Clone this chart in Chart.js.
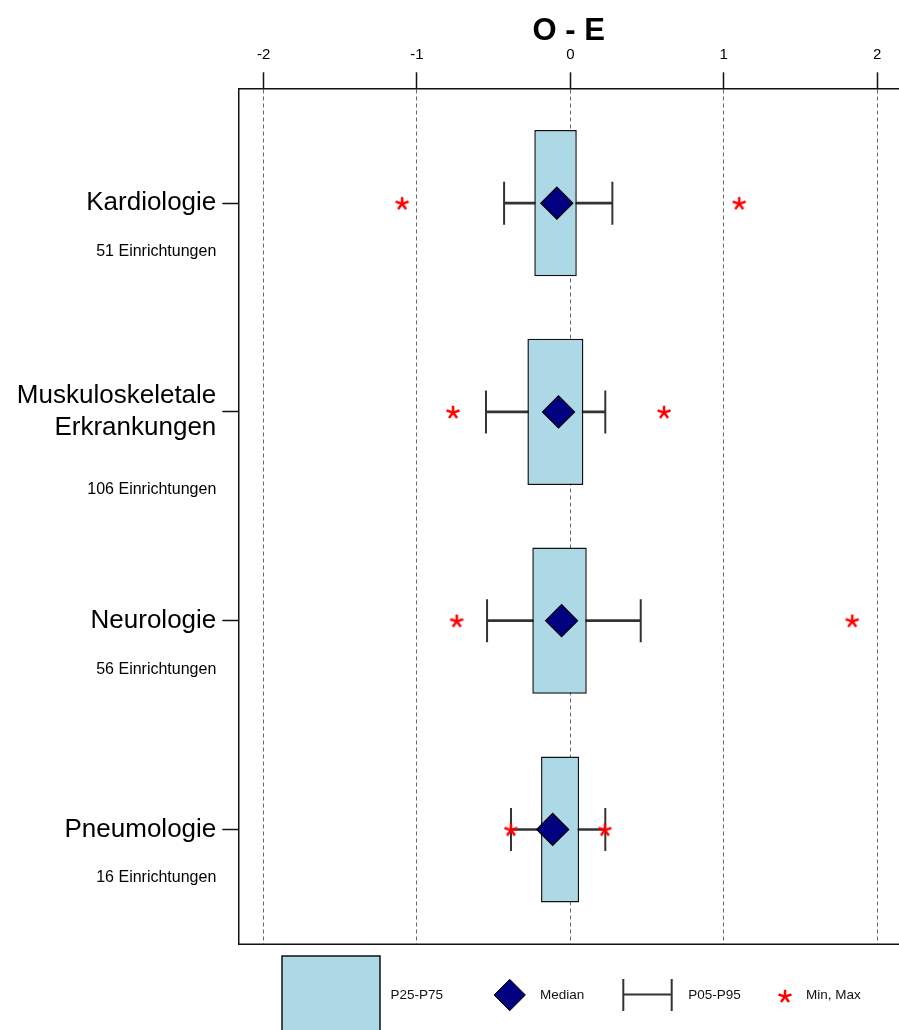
<!DOCTYPE html>
<html><head><meta charset="utf-8">
<script src="https://cdn.jsdelivr.net/npm/chart.js@4.4.1/dist/chart.umd.min.js"></script>
<style>
html,body{margin:0;padding:0;background:#fff;overflow:hidden}
#wrap{width:899px;height:1030px;overflow:hidden}
</style>
</head><body>
<div id="wrap"><canvas id="c" width="899" height="1030" style="width:899px;height:1030px;display:block"></canvas></div>
<script>
// ---- data ----
const categories = ['Kardiologie', ['Muskuloskeletale', 'Erkrankungen'], 'Neurologie', 'Pneumologie'];
const facilityCounts = [51, 106, 56, 16];
const p05 = [-0.432, -0.550, -0.543, -0.387];
const p25 = [-0.235, -0.280, -0.248, -0.191];
const median = [-0.088, -0.077, -0.057, -0.115];
const p75 = [0.042, 0.085, 0.107, 0.057];
const p95 = [0.274, 0.228, 0.459, 0.228];
const minVals = [-1.097, -0.765, -0.741, -0.387];
const maxVals = [1.101, 0.611, 1.838, 0.225];
const xTicks = [-2, -1, 0, 1, 2];
const legendLabels = ['P25-P75', 'Median', 'P05-P95', 'Min, Max'];
const titleText = 'O - E';
const unitLabel = 'Einrichtungen';

const FONT = '"Liberation Sans", Arial, Helvetica, sans-serif';
Chart.defaults.font.family = FONT;
Chart.defaults.color = '#000';

function makeStar(size, r, color) {
  const c = document.createElement('canvas');
  c.width = c.height = size;
  const g = c.getContext('2d');
  g.strokeStyle = color; g.lineWidth = 2.5; g.lineCap = 'butt';
  const cx = size / 2, cy = size / 2 + 0.6;
  for (let k = 0; k < 5; k++) {
    const a = -Math.PI / 2 + k * 2 * Math.PI / 5;
    g.beginPath(); g.moveTo(cx, cy);
    g.lineTo(cx + r * Math.cos(a), cy + r * Math.sin(a)); g.stroke();
  }
  return c;
}
const starImg = makeStar(16, 6.8, '#FF0000');

const rows = categories.map((_, i) => i);

const decor = {
  id: 'decor',
  afterDraw(chart) {
    const { ctx, chartArea: a, scales: { y } } = chart;
    ctx.save();
    // bottom frame line (right frame edge lies outside the picture)
    ctx.strokeStyle = '#111'; ctx.lineWidth = 1.5;
    ctx.beginPath(); ctx.moveTo(a.left, a.bottom); ctx.lineTo(a.right + 2, a.bottom); ctx.stroke();
    // facility counts under category labels
    ctx.font = '16px ' + FONT; ctx.fillStyle = '#000';
    ctx.textAlign = 'right'; ctx.textBaseline = 'middle';
    categories.forEach((c, i) => {
      const lines = Array.isArray(c) ? c.length : 1;
      const py = y.getPixelForValue(i) + 48.5 + (lines - 1) * 29;
      ctx.fillText(facilityCounts[i] + ' ' + unitLabel, a.left - 22, py);
    });
    // legend
    ctx.fillStyle = '#ADD8E6'; ctx.fillRect(282, 956, 98, 90);
    ctx.strokeStyle = '#111'; ctx.lineWidth = 1.5; ctx.strokeRect(282, 956, 98, 90);
    ctx.font = '13.5px ' + FONT; ctx.fillStyle = '#111'; ctx.textAlign = 'left';
    ctx.fillText(legendLabels[0], 390.5, 995.5);
    // diamond
    ctx.beginPath();
    ctx.moveTo(509.7 - 15.7, 995); ctx.lineTo(509.7, 995 - 15.7);
    ctx.lineTo(509.7 + 15.7, 995); ctx.lineTo(509.7, 995 + 15.7); ctx.closePath();
    ctx.fillStyle = '#000080'; ctx.fill(); ctx.strokeStyle = '#000'; ctx.lineWidth = 1; ctx.stroke();
    ctx.fillStyle = '#111'; ctx.fillText(legendLabels[1], 540, 995.5);
    // whisker
    ctx.strokeStyle = '#333'; ctx.lineWidth = 2;
    ctx.beginPath();
    ctx.moveTo(623.3, 994.5); ctx.lineTo(671.7, 994.5);
    ctx.moveTo(623.3, 979); ctx.lineTo(623.3, 1011);
    ctx.moveTo(671.7, 979); ctx.lineTo(671.7, 1011);
    ctx.stroke();
    ctx.fillText(legendLabels[2], 688.3, 995.5);
    // star
    ctx.drawImage(starImg, 785 - 8, 996 - 8);
    ctx.fillText(legendLabels[3], 806, 995.5);
    ctx.restore();
  }
};

new Chart(document.getElementById('c'), {
  data: {
    datasets: [
      {
        type: 'bar', label: 'P05-P95',
        data: rows.map(i => ({ y: i, x: [p05[i], p95[i]] })),
        backgroundColor: '#333', borderWidth: 0, barThickness: 2, grouped: false, order: 5
      },
      {
        type: 'scatter', label: 'caps',
        data: rows.flatMap(i => [{ x: p05[i], y: i }, { x: p95[i], y: i }]),
        pointStyle: 'line', pointRotation: 90, pointRadius: 21.5, pointHoverRadius: 21.5,
        pointBorderColor: '#333', pointBorderWidth: 2, order: 4
      },
      {
        type: 'bar', label: 'P25-P75',
        data: rows.map(i => ({ y: i, x: [p25[i], p75[i]] })),
        backgroundColor: '#ADD8E6', borderColor: '#111', borderWidth: 1.5, borderSkipped: false,
        grouped: false, categoryPercentage: 1, barPercentage: 0.7, order: 3
      },
      {
        type: 'scatter', label: 'Median',
        data: rows.map(i => ({ x: median[i], y: i })),
        pointStyle: 'rectRot', pointRadius: 16, pointHoverRadius: 16,
        pointBackgroundColor: '#000080', pointBorderColor: '#000', pointBorderWidth: 1.2, order: 1
      },
      {
        type: 'scatter', label: 'Min, Max',
        data: rows.flatMap(i => [{ x: minVals[i], y: i }, { x: maxVals[i], y: i }]),
        pointStyle: starImg, pointRadius: 8, order: 0
      }
    ]
  },
  options: {
    indexAxis: 'y',
    responsive: false,
    animation: false,
    events: [],
    layout: { autoPadding: false, padding: { top: 0, left: 0, right: 0, bottom: 85.7 } },
    plugins: {
      legend: { display: false },
      tooltip: { enabled: false },
      title: { display: false }
    },
    scales: {
      x: {
        type: 'linear', position: 'top', min: -2.165, max: 2.143, offset: false,
        afterBuildTicks: s => { s.ticks = xTicks.map(v => ({ value: v })); },
        afterFit: s => { s.height = 88.3; },
        title: {
          display: true, text: titleText, color: '#000',
          font: { size: 31, weight: 'bold', family: FONT },
          padding: { top: 12.4, bottom: 0 }
        },
        ticks: { font: { size: 15 }, color: '#000', padding: 8, autoSkip: false },
        grid: {
          display: true, drawOnChartArea: true, color: '#666', lineWidth: 1, offset: false,
          drawTicks: true, tickLength: 16, tickColor: '#111', tickWidth: 1.5,
          tickBorderDash: [], tickBorderDashOffset: 0
        },
        border: { display: true, color: '#111', width: 1.5, dash: [4, 3] }
      },
      y: {
        type: 'linear', reverse: true, min: -0.55, max: 3.55, offset: false,
        afterBuildTicks: s => { s.ticks = rows.map(v => ({ value: v })); },
        afterFit: s => { s.width = 238.3; },
        ticks: {
          font: { size: 26 }, color: '#000', padding: 6, autoSkip: false,
          callback: v => categories[Math.round(v)]
        },
        grid: {
          display: true, drawOnChartArea: false, drawTicks: true, offset: false,
          tickLength: 16, tickColor: '#111', tickWidth: 1.5
        },
        border: { display: true, color: '#111', width: 1.5 }
      }
    }
  },
  plugins: [decor]
});
</script>
</body></html>
